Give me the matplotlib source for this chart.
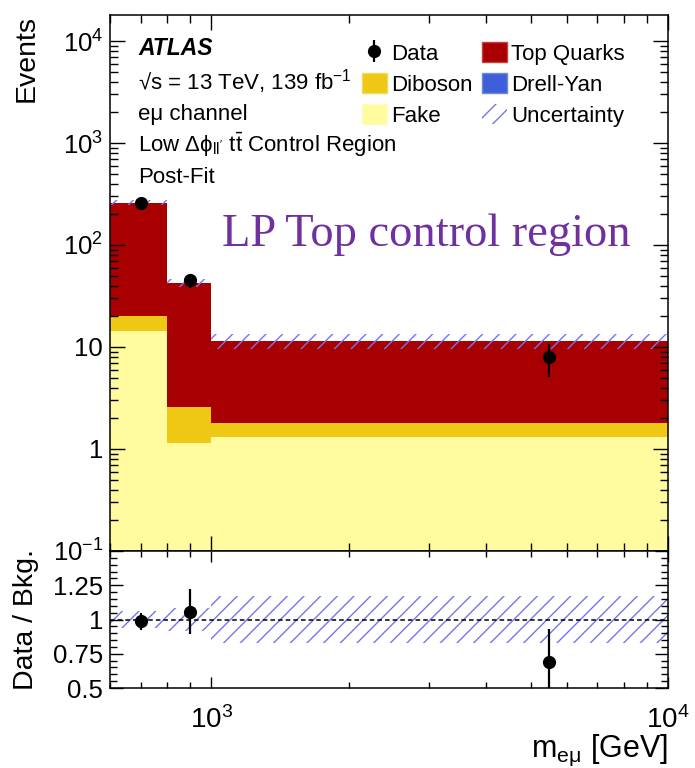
import numpy as np
import matplotlib
matplotlib.use("Agg")
import matplotlib.pyplot as plt
from matplotlib.patches import Patch
from matplotlib.ticker import NullFormatter, MultipleLocator, LogLocator

# ---------------- data ----------------
bin_edges = [600, 800, 1000, 10000]
data_x = [700, 900, 5500]
fake = [14.4, 1.15, 1.32]
diboson = [5.6, 1.45, 0.48]
drell_yan = [0.05, 0.01, 0.005]
top_quarks = [240.0, 40.0, 9.7]
data = [257, 45, 7.9]
data_err = [16, 7, 2.8]
rel_unc = [0.06, 0.085, 0.17]

main_ytick_vals = [0.1, 1, 10, 100, 1000, 10000]
main_ytick_labels = ["$10^{-1}$", "1", "10", "$10^{2}$", "$10^{3}$", "$10^{4}$"]
xtick_vals = [1000, 10000]
xtick_labels = ["$10^{3}$", "$10^{4}$"]
ratio_ytick_vals = [0.5, 0.75, 1.0, 1.25, 1.5]
ratio_ytick_labels = ["0.5", "0.75", "1", "1.25", ""]

# ---------------- style ----------------
plt.rcParams['font.family'] = ['Liberation Sans', 'DejaVu Sans']
plt.rcParams['mathtext.fontset'] = 'custom'
plt.rcParams['mathtext.rm'] = 'Liberation Sans'
plt.rcParams['mathtext.it'] = 'Liberation Sans:italic'
plt.rcParams['mathtext.bf'] = 'Liberation Sans:bold'
plt.rcParams['hatch.linewidth'] = 1.0
plt.rcParams['axes.linewidth'] = 1.1

c_fake = '#FFFB9E'
c_dib = '#EEC815'
c_dy = '#3F5FD8'
c_top = '#A80000'
c_hatch = '#7474EE'

W, H = 695, 768
fig = plt.figure(figsize=(W / 100, H / 100), dpi=100)
L, R = 110, 668
T, M, B = 15, 551, 688
ax = fig.add_axes([L / W, 1 - M / H, (R - L) / W, (M - T) / H])
ax2 = fig.add_axes([L / W, 1 - B / H, (R - L) / W, (B - M) / H], sharex=ax)

edges = np.array(bin_edges, dtype=float)
fk = np.array(fake)
db = np.array(diboson)
dy = np.array(drell_yan)
tq = np.array(top_quarks)
s1 = fk
s2 = s1 + db
s3 = s2 + dy
s4 = s3 + tq
total = s4
unc = np.array(rel_unc)

ax.stairs(s1, edges, baseline=1e-3, fill=True, color=c_fake, zorder=1)
ax.stairs(s2, edges, baseline=s1, fill=True, color=c_dib, zorder=1)
ax.stairs(s3, edges, baseline=s2, fill=True, color=c_dy, zorder=1)
ax.stairs(s4, edges, baseline=s3, fill=True, color=c_top, zorder=1)
ax.stairs(total * (1 + unc), edges, baseline=total * (1 - unc), fill=True,
          facecolor='none', edgecolor=c_hatch, hatch='//', linewidth=0, zorder=2)
eb = ax.errorbar(data_x, data, yerr=data_err, fmt='o', color='black', ms=8.5,
                 elinewidth=1.6, capsize=0, zorder=5)

ax.set_xscale('log')
ax.set_yscale('log')
ax.set_xlim(600, 10000)
ax.set_ylim(0.1, 10 ** (4 + 26 / 102))
ax.set_yticks(main_ytick_vals)
ax.set_yticklabels(main_ytick_labels)
ax.yaxis.set_minor_locator(LogLocator(base=10, subs=np.arange(2, 10), numticks=20))
ax.yaxis.set_minor_formatter(NullFormatter())
ax.tick_params(which='both', direction='in', top=True, right=True, labelbottom=False,
               labelsize=18.5, pad=5, width=1.0)
ax.tick_params(which='major', length=11)
ax.tick_params(which='minor', length=5.5)

ax.set_ylabel("Events", fontsize=20.5, loc='top')
ax.yaxis.set_label_coords(-0.127, 1.0)

# text block
tx = (138 - L) / (R - L)
def yfrac(py):
    return (M - py) / (M - T)
fs = 16
ax.text(tx, yfrac(55), "ATLAS", fontsize=16.5, fontweight='bold', fontstyle='italic',
        transform=ax.transAxes, va='baseline')
ax.text(tx, yfrac(90), "\u221as = 13 TeV, 139 fb$^{-1}$", fontsize=fs,
        transform=ax.transAxes, va='baseline')
ax.text(tx, yfrac(120), "e\u03bc channel", fontsize=fs,
        transform=ax.transAxes, va='baseline')
ax.text(tx, yfrac(152), r"Low $\Delta\mathrm{\phi}_{\mathrm{ll'}}$ t$\bar{\mathrm{t}}$ Control Region",
        fontsize=fs, transform=ax.transAxes, va='baseline')
ax.text(tx, yfrac(183), "Post-Fit", fontsize=fs, transform=ax.transAxes, va='baseline')

ax.text((222 - L) / (R - L), yfrac(246), "LP Top control region", fontsize=33.5,
        family='Liberation Serif', color='#7030A0', transform=ax.transAxes, va='baseline')

handles = [eb,
           Patch(facecolor=c_dib, edgecolor='#F3D860'),
           Patch(facecolor=c_fake, edgecolor='#FFFCC0'),
           Patch(facecolor=c_top, edgecolor='#C84040'),
           Patch(facecolor=c_dy, edgecolor='#7088E0'),
           Patch(facecolor='none', edgecolor=c_hatch, hatch='//', linewidth=0)]
labels = ["Data", "Diboson", "Fake", "Top Quarks", "Drell-Yan", "Uncertainty"]
ax.legend(handles, labels, ncol=2, loc='upper left',
          bbox_to_anchor=((362 - L) / (R - L), yfrac(42)), frameon=False,
          fontsize=fs, handlelength=1.12, handleheight=1.0, handletextpad=0.18,
          labelspacing=0.38, columnspacing=0.45, borderpad=0, borderaxespad=0)

# ---------------- ratio ----------------
ratio = np.array(data) / total
ratio_err = np.array(data_err) / total
ax2.stairs(1 + unc, edges, baseline=1 - unc, fill=True, facecolor='none',
           edgecolor=c_hatch, hatch='//', linewidth=0, zorder=1)
ax2.axhline(1.0, color='black', ls=(0, (3, 2)), lw=1.1, zorder=2)
ax2.errorbar(data_x, ratio, yerr=ratio_err, fmt='o', color='black', ms=8.5,
             elinewidth=1.6, capsize=0, zorder=5)
ax2.set_ylim(0.5, 1.5)
ax2.set_yticks(ratio_ytick_vals)
ax2.set_yticklabels(ratio_ytick_labels)
ax2.yaxis.set_minor_locator(MultipleLocator(0.05))
ax2.set_xticks(xtick_vals)
ax2.set_xticklabels(xtick_labels)
ax2.xaxis.set_minor_formatter(NullFormatter())
ax2.tick_params(which='both', direction='in', top=True, right=True, width=1.0)
ax2.tick_params(axis='y', which='major', length=9.5, pad=5, labelsize=18.5)
ax2.tick_params(axis='y', which='minor', length=5)
ax2.tick_params(axis='x', which='major', length=8, pad=13, labelsize=20)
ax2.tick_params(axis='x', which='minor', length=4)
ax2.set_ylabel("Data / Bkg.", fontsize=20.5)
ax2.yaxis.set_label_coords(-0.127, 0.5)
ax2.set_xlabel("m$_{\\mathrm{e\u03bc}}$ [GeV]", fontsize=22, loc='right')
ax2.xaxis.set_label_coords(1.0, (B - 733) / (B - M))
ax2.xaxis.label.set_va('top')

fig.savefig("out.png", dpi=100)
